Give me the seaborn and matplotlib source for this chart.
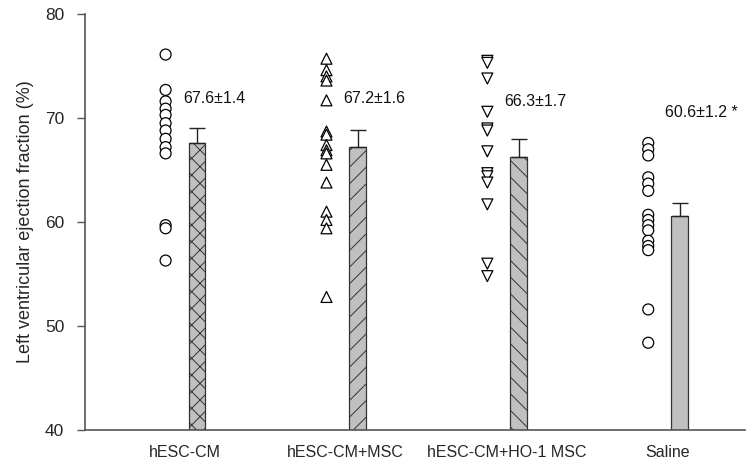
import numpy as np
import pandas as pd
import matplotlib
matplotlib.use("Agg")
import matplotlib.pyplot as plt
import seaborn as sns

# Group labels and summary statistics (mean ± SEM)
groups = ["hESC-CM", "hESC-CM+MSC", "hESC-CM+HO-1 MSC", "Saline"]
means = [67.6, 67.2, 66.3, 60.6]
sems = [1.4, 1.6, 1.7, 1.2]
labels = ["67.6±1.4", "67.2±1.6", "66.3±1.7", "60.6±1.2 *"]

# Individual animal measurements (%)
ef_hesc_cm = [76.1, 72.7, 71.6, 70.9, 70.3, 69.5, 68.8, 68.0, 67.2, 66.6, 59.7, 59.4, 56.3]
ef_hesc_cm_msc = [75.7, 74.6, 74.0, 73.6, 71.7, 68.7, 68.4, 67.4, 66.9, 66.6, 65.5, 63.8,
                  61.0, 60.2, 59.4, 52.8]
ef_hesc_cm_ho1 = [75.5, 75.3, 73.8, 70.6, 69.0, 68.8, 66.8, 64.7, 64.4, 63.8, 61.7, 56.0, 54.8]
ef_saline = [67.6, 67.0, 66.4, 64.3, 63.7, 63.0, 60.7, 60.2, 59.7, 59.2, 58.2, 57.7, 57.3,
             51.6, 48.4]

yticks = [40, 50, 60, 70, 80]

sns.set_theme(style="white")
plt.rcParams["font.family"] = ["Liberation Sans", "DejaVu Sans"]
plt.rcParams["hatch.linewidth"] = 0.7

point_sets = [ef_hesc_cm, ef_hesc_cm_msc, ef_hesc_cm_ho1, ef_saline]
marker_codes = ["circle", "up", "down", "circle2"]
rows = []
for gi, vals in enumerate(point_sets):
    for v in vals:
        rows.append({"pos": gi - 0.12, "ef": v, "kind": marker_codes[gi]})
df = pd.DataFrame(rows)

fig = plt.figure(figsize=(7.47, 4.66), dpi=100)
ax = fig.add_axes([0.114, 0.077, 0.883, 0.893])

sns.scatterplot(data=df, x="pos", y="ef", style="kind",
                markers={"circle": "o", "up": "^", "down": "v", "circle2": "o"},
                s=62, facecolor="white", edgecolor="black", linewidth=0.9,
                legend=False, ax=ax, zorder=3)

hatches = ["xx", "//", "\\\\", ""]
# annotation heights above each bar
label_y = [71.9, 71.9, 71.6, 70.5]
bar_x = np.arange(len(groups)) + 0.075
for i in range(len(groups)):
    ax.bar(bar_x[i], means[i] - 40, bottom=40, width=0.105, color="#c0c0c0",
           edgecolor="#333333", linewidth=0.9, hatch=hatches[i], zorder=2)
    ax.errorbar(bar_x[i], means[i], yerr=[[0], [sems[i]]], fmt="none",
                ecolor="#222222", elinewidth=1, capsize=5.5, capthick=1, zorder=2)
    ax.text(bar_x[i] - 0.088, label_y[i], labels[i], fontsize=11.5,
            ha="left", va="center", color="#111111")

ax.set_xlim(-0.62, 3.48)
ax.set_ylim(40, 80)
ax.set_yticks(yticks)
ax.set_xticks(np.arange(len(groups)))
ax.set_xticklabels(groups, fontsize=11.5)
ax.tick_params(axis="y", which="major", direction="out", length=6, width=1,
               color="#555555", labelsize=12.5, left=True, pad=9)
ax.tick_params(axis="x", length=0, labelsize=11.5, pad=11)
ax.set_xlabel("")
ax.set_ylabel("Left ventricular ejection fraction (%)", fontsize=13, labelpad=8)
for s in ["top", "right"]:
    ax.spines[s].set_visible(False)
for s in ["left", "bottom"]:
    ax.spines[s].set_color("#555555")
    ax.spines[s].set_linewidth(1.2)

fig.savefig("out.png", dpi=100)
